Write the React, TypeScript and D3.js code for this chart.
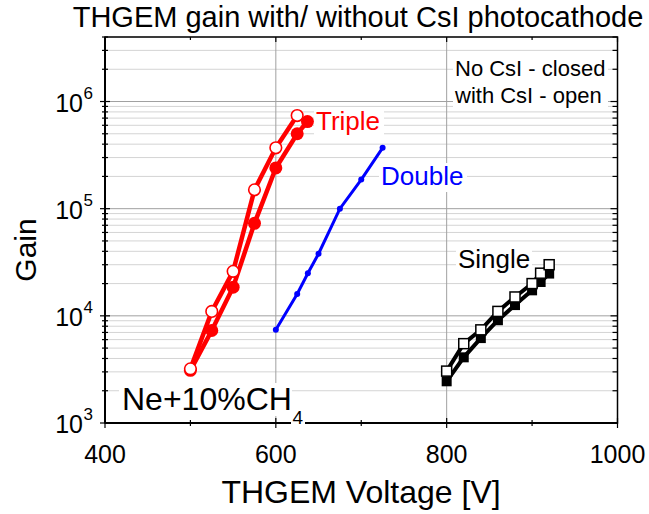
import React, { useRef, useEffect } from 'react';
import * as d3 from 'd3';

// THGEM gain vs voltage, Ne+10%CH4
const tripleOpenV = [500, 525, 550, 575, 600, 625];
const tripleOpenG = [3.2e3, 1.1e4, 2.6e4, 1.5e5, 3.7e5, 7.4e5];
const tripleClosedV = [500, 525, 550, 575, 600, 625, 637];
const tripleClosedG = [3.1e3, 7.3e3, 1.85e4, 7.3e4, 2.4e5, 5.0e5, 6.5e5];
const doubleV = [600, 625, 637.5, 650, 675, 700, 725];
const doubleG = [7.4e3, 1.6e4, 2.5e4, 3.8e4, 1.0e5, 1.87e5, 3.7e5];
const singleOpenV = [800, 820, 840, 860, 880, 900, 910, 920];
const singleOpenG = [3.05e3, 5.5e3, 7.4e3, 1.1e4, 1.5e4, 2.0e4, 2.5e4, 3.0e4];
const singleClosedV = [800, 820, 840, 860, 880, 900, 910, 920];
const singleClosedG = [2.45e3, 4.1e3, 6.2e3, 9.1e3, 1.26e4, 1.73e4, 2.07e4, 2.48e4];

const xMajor = [400, 600, 800, 1000];
const xMinor = [500, 700, 900];
const xGrid = [600, 800];
const yMajor = [1e3, 1e4, 1e5, 1e6];

const W = 649;
const H = 514;
const FONT = 'Arial, "Liberation Sans", sans-serif';

const zip = (xs: number[], ys: number[]) => xs.map((x, i) => [x, ys[i]] as [number, number]);

export default function App() {
  const ref = useRef(null);

  useEffect(() => {
    const svg = d3.select(ref.current);
    svg.selectAll('*').remove();

    const m = { left: 105, right: 31.5, top: 37, bottom: 91 };
    const x = d3.scaleLinear().domain([400, 1000]).range([m.left, W - m.right]);
    const y = d3.scaleLog().domain([1e3, 4e6]).range([H - m.bottom, m.top]);
    const [x0, x1] = x.range();
    const [y0, y1] = y.range();

    // minor values 2..9 per decade
    const yMinor: number[] = [];
    for (let d = 1e3; d < 4e6; d *= 10) {
      for (let k = 2; k <= 9; k++) if (k * d <= 4e6) yMinor.push(k * d);
    }

    const grid = svg.append('g');
    grid.selectAll('line.minor').data(yMinor).enter().append('line')
      .attr('x1', x0).attr('x2', x1)
      .attr('y1', (d) => y(d)).attr('y2', (d) => y(d))
      .attr('stroke', '#d4d4d4').attr('stroke-width', 1);
    grid.selectAll('line.major').data(yMajor.slice(1)).enter().append('line')
      .attr('x1', x0).attr('x2', x1)
      .attr('y1', (d) => y(d)).attr('y2', (d) => y(d))
      .attr('stroke', '#a0a0a0').attr('stroke-width', 1);
    grid.selectAll('line.vx').data(xGrid).enter().append('line')
      .attr('x1', (d) => x(d)).attr('x2', (d) => x(d))
      .attr('y1', y0).attr('y2', y1)
      .attr('stroke', '#a0a0a0').attr('stroke-width', 1);

    // white boxes behind labels that cut the grid
    const bg = svg.append('g').attr('fill', 'white');
    bg.append('rect').attr('x', 453).attr('y', 52).attr('width', 155).attr('height', 58);
    bg.append('rect').attr('x', 314).attr('y', 108).attr('width', 70).attr('height', 27);
    bg.append('rect').attr('x', 379).attr('y', 163).attr('width', 88).attr('height', 29);
    bg.append('rect').attr('x', 456).attr('y', 246).attr('width', 76).attr('height', 30);
    bg.append('rect').attr('x', 119).attr('y', 383).attr('width', 173).attr('height', 33);

    const line = d3.line<[number, number]>().x((d) => x(d[0])).y((d) => y(d[1]));

    const plot = svg.append('g');
    // triple
    plot.append('path').datum(zip(tripleClosedV, tripleClosedG)).attr('d', line)
      .attr('fill', 'none').attr('stroke', '#ff0000').attr('stroke-width', 4.5);
    plot.append('path').datum(zip(tripleOpenV, tripleOpenG)).attr('d', line)
      .attr('fill', 'none').attr('stroke', '#ff0000').attr('stroke-width', 4.5);
    plot.selectAll('circle.tc').data(zip(tripleClosedV, tripleClosedG)).enter().append('circle')
      .attr('cx', (d) => x(d[0])).attr('cy', (d) => y(d[1])).attr('r', 6.5).attr('fill', '#ff0000');
    plot.selectAll('circle.to').data(zip(tripleOpenV, tripleOpenG)).enter().append('circle')
      .attr('cx', (d) => x(d[0])).attr('cy', (d) => y(d[1])).attr('r', 5.8)
      .attr('fill', 'white').attr('stroke', '#ff0000').attr('stroke-width', 1.6);

    // double
    plot.append('path').datum(zip(doubleV, doubleG)).attr('d', line)
      .attr('fill', 'none').attr('stroke', '#0000ff').attr('stroke-width', 3);
    plot.selectAll('circle.d').data(zip(doubleV, doubleG)).enter().append('circle')
      .attr('cx', (d) => x(d[0])).attr('cy', (d) => y(d[1])).attr('r', 3).attr('fill', '#0000ff');

    // single
    const s = 10;
    plot.append('path').datum(zip(singleClosedV, singleClosedG)).attr('d', line)
      .attr('fill', 'none').attr('stroke', 'black').attr('stroke-width', 4);
    plot.append('path').datum(zip(singleOpenV, singleOpenG)).attr('d', line)
      .attr('fill', 'none').attr('stroke', 'black').attr('stroke-width', 4);
    plot.selectAll('rect.sc').data(zip(singleClosedV, singleClosedG)).enter().append('rect')
      .attr('x', (d) => x(d[0]) - s / 2).attr('y', (d) => y(d[1]) - s / 2)
      .attr('width', s).attr('height', s).attr('fill', 'black');
    plot.selectAll('rect.so').data(zip(singleOpenV, singleOpenG)).enter().append('rect')
      .attr('x', (d) => x(d[0]) - s / 2).attr('y', (d) => y(d[1]) - s / 2)
      .attr('width', s).attr('height', s).attr('fill', 'white')
      .attr('stroke', 'black').attr('stroke-width', 1.5);

    // frame + ticks
    const ax = svg.append('g').attr('stroke', 'black');
    ax.append('rect').attr('x', x0).attr('y', y1).attr('width', x1 - x0).attr('height', y0 - y1)
      .attr('fill', 'none').attr('stroke-width', 1.5);
    ax.append('line').attr('x1', x0).attr('x2', x1).attr('y1', y0).attr('y2', y0).attr('stroke-width', 2);
    ax.append('line').attr('x1', x0).attr('x2', x0).attr('y1', y0).attr('y2', y1).attr('stroke-width', 2);
    const xt = [...xMajor.map((v) => ({ v, l: 5 })), ...xMinor.map((v) => ({ v, l: 3 }))];
    xt.forEach((t) => {
      ax.append('line').attr('x1', x(t.v)).attr('x2', x(t.v)).attr('y1', y0 - t.l).attr('y2', y0 + t.l).attr('stroke-width', 1.2);
      ax.append('line').attr('x1', x(t.v)).attr('x2', x(t.v)).attr('y1', y1).attr('y2', y1 + t.l).attr('stroke-width', 1.2);
    });
    const yt = [...yMajor.map((v) => ({ v, l: 5 })), ...yMinor.map((v) => ({ v, l: 3 }))];
    yt.forEach((t) => {
      ax.append('line').attr('x1', x0 - t.l).attr('x2', x0 + t.l).attr('y1', y(t.v)).attr('y2', y(t.v)).attr('stroke-width', 1.2);
      ax.append('line').attr('x1', x1 - t.l - 2).attr('x2', x1).attr('y1', y(t.v)).attr('y2', y(t.v)).attr('stroke-width', 1.2);
    });

    // subscript box cuts the bottom axis line
    svg.append('rect').attr('x', 291).attr('y', 406).attr('width', 14).attr('height', 22).attr('fill', 'white');

    // tick labels
    const txt = svg.append('g').attr('font-family', FONT).attr('fill', 'black');
    txt.selectAll('text.xl').data(xMajor).enter().append('text')
      .attr('x', (d) => x(d)).attr('y', 463).attr('text-anchor', 'middle')
      .attr('font-size', 25).text((d) => d);
    yMajor.forEach((v) => {
      txt.append('text').attr('x', 83).attr('y', y(v) + 10).attr('text-anchor', 'end')
        .attr('font-size', 25).text('10');
      txt.append('text').attr('x', 83.5).attr('y', y(v) - 3).attr('font-size', 17)
        .text(String(Math.round(Math.log10(v))));
    });

    // titles
    txt.append('text').attr('x', 358).attr('y', 27).attr('text-anchor', 'middle')
      .attr('font-size', 29).text('THGEM gain with/ without CsI photocathode');
    txt.append('text').attr('x', 361).attr('y', 503).attr('text-anchor', 'middle')
      .attr('font-size', 32).text('THGEM Voltage [V]');
    txt.append('text').attr('transform', 'translate(36,250) rotate(-90)').attr('text-anchor', 'middle')
      .attr('font-size', 30).text('Gain');

    // annotations
    txt.append('text').attr('x', 455).attr('y', 76).attr('font-size', 22).text('No CsI - closed');
    txt.append('text').attr('x', 455).attr('y', 103).attr('font-size', 22).text('with CsI - open');
    txt.append('text').attr('x', 316).attr('y', 130).attr('font-size', 26).attr('fill', '#ff0000').text('Triple');
    txt.append('text').attr('x', 381).attr('y', 185).attr('font-size', 26).attr('fill', '#0000ff').text('Double');
    txt.append('text').attr('x', 458).attr('y', 268).attr('font-size', 26).text('Single');
    txt.append('text').attr('x', 122).attr('y', 410).attr('font-size', 32).text('Ne+10%CH');
    txt.append('text').attr('x', 292.5).attr('y', 424).attr('font-size', 19).text('4');
  }, []);

  return (
    <svg ref={ref} width={W} height={H}
      style={{ position: 'absolute', left: 0, top: 0, background: 'white' }} />
  );
}
